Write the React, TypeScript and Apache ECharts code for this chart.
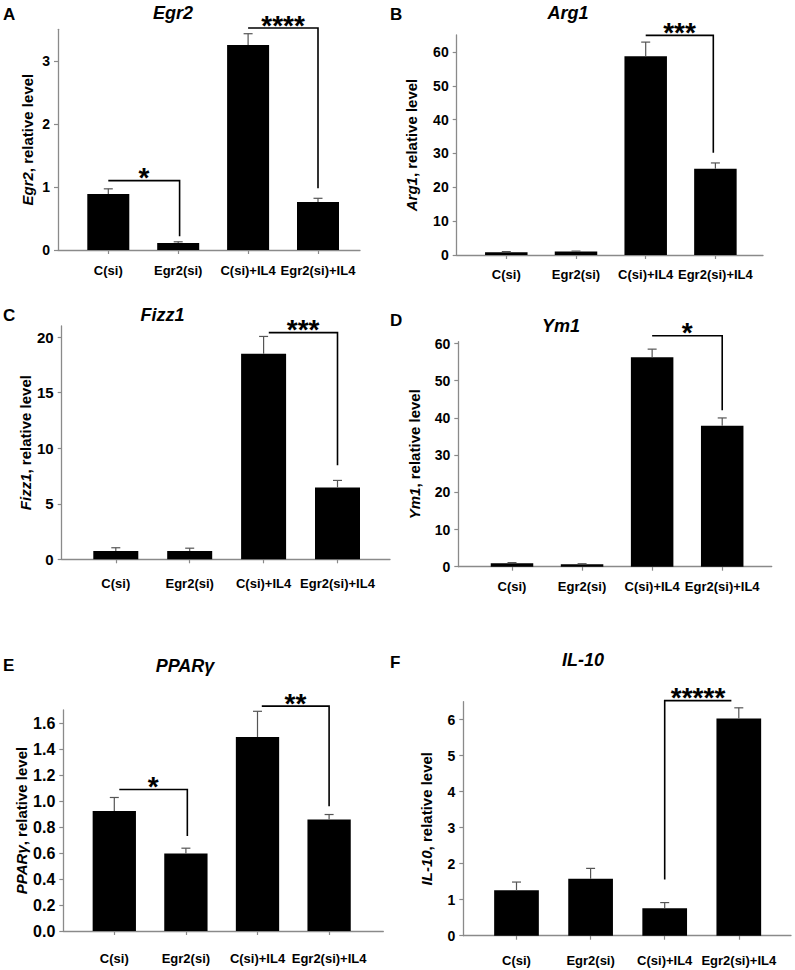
import React, { useEffect, useRef } from 'react';
import * as echarts from 'echarts';

type Bracket = [number, number, number, number, number, string];

const categories = ['C(si)', 'Egr2(si)', 'C(si)+IL4', 'Egr2(si)+IL4'];
const categoryPositions = [0, 1, 2, 3];

// A: Egr2
const egr2Values = [0.89, 0.11, 3.25, 0.76];
const egr2Errors = [0.08, 0.02, 0.18, 0.06];
const egr2Ticks = [0, 1, 2, 3];
const egr2AxisMax = 3.5;
const egr2Brackets: Bracket[] = [
  [0, 1.02, 1.1, 1.02, 0.22, '*'],
  [2, 3, 3.52, 3, 0.98, '****'],
];

// B: Arg1
const arg1Values = [0.8, 1.0, 58.7, 25.5];
const arg1Errors = [0.2, 0.15, 4.2, 1.7];
const arg1Ticks = [0, 10, 20, 30, 40, 50, 60];
const arg1AxisMax = 65;
const arg1Brackets: Bracket[] = [[2, 2.97, 64.9, 2.97, 30.2, '***']];

// C: Fizz1
const fizz1Values = [0.75, 0.75, 18.5, 6.47];
const fizz1Errors = [0.29, 0.25, 1.56, 0.63];
const fizz1Ticks = [0, 5, 10, 15, 20];
const fizz1AxisMax = 21;
const fizz1Brackets: Bracket[] = [[2.07, 3, 20.4, 3, 8.47, '***']];

// D: Ym1
const ym1Values = [0.9, 0.65, 56.3, 37.9];
const ym1Errors = [0.2, 0.15, 2.2, 2.1];
const ym1Ticks = [0, 10, 20, 30, 40, 50, 60];
const ym1AxisMax = 60.5;
const ym1Brackets: Bracket[] = [[2, 3, 62.1, 3, 42.1, '*']];

// E: PPARγ
const pparValues = [0.924, 0.597, 1.492, 0.858];
const pparErrors = [0.103, 0.04, 0.198, 0.038];
const pparTicks = [0, 0.2, 0.4, 0.6, 0.8, 1.0, 1.2, 1.4, 1.6];
const pparAxisMax = 1.7;
const pparBrackets: Bracket[] = [
  [0.07, 1.02, 1.088, 1.02, 0.73, '*'],
  [2.06, 3, 1.73, 3, 0.96, '**'],
];

// F: IL-10
const il10Values = [1.26, 1.58, 0.765, 6.03];
const il10Errors = [0.23, 0.29, 0.155, 0.3];
const il10Ticks = [0, 1, 2, 3, 4, 5, 6];
const il10AxisMax = 6.5;
const il10Brackets: Bracket[] = [[2, 2.9, 6.53, 2, 1.56, '*****']];

const FONT = '"Liberation Sans", Arial, Helvetica, sans-serif';
const AXIS_COLOR = '#8a8a8a';

const panels = [
  { letter: 'A', gene: 'Egr2', values: egr2Values, errors: egr2Errors, ticks: egr2Ticks, max: egr2AxisMax, brackets: egr2Brackets, decimals: 0,
    L: { axisX: 58, top: 29.3, bottom: 250, right: 360, c0: 108.3, step: 69.9, barW: 42, yFont: 14, nameGap: 23, labelMargin: 14, titleX: 173, titleY: 13, letterX: 3, letterY: 14.5 } },
  { letter: 'B', gene: 'Arg1', values: arg1Values, errors: arg1Errors, ticks: arg1Ticks, max: arg1AxisMax, brackets: arg1Brackets, decimals: 0,
    L: { axisX: 456.7, top: 35, bottom: 255, right: 763, c0: 506.3, step: 69.7, barW: 42.5, yFont: 14, nameGap: 38, labelMargin: 13, titleX: 568, titleY: 13, letterX: 390, letterY: 14 } },
  { letter: 'C', gene: 'Fizz1', values: fizz1Values, errors: fizz1Errors, ticks: fizz1Ticks, max: fizz1AxisMax, brackets: fizz1Brackets, decimals: 0,
    L: { axisX: 61.7, top: 326, bottom: 559.3, right: 390, c0: 115.8, step: 73.9, barW: 45, yFont: 15, nameGap: 19, labelMargin: 18, titleX: 162.5, titleY: 315, letterX: 3, letterY: 315 } },
  { letter: 'D', gene: 'Ym1', values: ym1Values, errors: ym1Errors, ticks: ym1Ticks, max: ym1AxisMax, brackets: ym1Brackets, decimals: 0,
    L: { axisX: 458.3, top: 341.7, bottom: 566.7, right: 771.7, c0: 512, step: 70.07, barW: 42.5, yFont: 14, nameGap: 36, labelMargin: 13, titleX: 561, titleY: 326, letterX: 390, letterY: 320 } },
  { letter: 'E', gene: 'PPARγ', values: pparValues, errors: pparErrors, ticks: pparTicks, max: pparAxisMax, brackets: pparBrackets, decimals: 1,
    L: { axisX: 63.3, top: 710, bottom: 931, right: 383.3, c0: 114.3, step: 71.6, barW: 43.3, yFont: 16, nameGap: 34, labelMargin: 21, titleX: 185, titleY: 666, letterX: 3, letterY: 665 } },
  { letter: 'F', gene: 'IL-10', values: il10Values, errors: il10Errors, ticks: il10Ticks, max: il10AxisMax, brackets: il10Brackets, decimals: 0,
    L: { axisX: 463.3, top: 701.7, bottom: 935.7, right: 791, c0: 516.5, step: 74.1, barW: 44.7, yFont: 14, nameGap: 29, labelMargin: 18, titleX: 583, titleY: 660, letterX: 390, letterY: 662 } },
];

function buildOption() {
  const grid: any[] = [];
  const xAxis: any[] = [];
  const yAxis: any[] = [];
  const series: any[] = [];
  const graphic: any[] = [];

  panels.forEach((p, i) => {
    const L = p.L;
    grid.push({ left: L.axisX, top: L.top, width: L.right - L.axisX, height: L.bottom - L.top, containLabel: false, outerBoundsMode: 'none' });
    const xMin = -(L.c0 - L.axisX) / L.step;
    const xMax = 3 + (L.right - (L.c0 + 3 * L.step)) / L.step;
    xAxis.push({
      type: 'value', gridIndex: i, min: xMin, max: xMax,
      axisLine: { show: true, onZero: false, lineStyle: { color: AXIS_COLOR, width: 1.3 } },
      axisTick: { show: true, customValues: categoryPositions, length: 4, lineStyle: { color: AXIS_COLOR, width: 1.2 } },
      axisLabel: {
        show: true, customValues: categoryPositions, margin: L.labelMargin,
        formatter: (v: number) => categories[Math.round(v)] ?? '',
        color: '#000', fontWeight: 'bold', fontSize: 13, fontFamily: FONT,
      },
      splitLine: { show: false },
    });
    yAxis.push({
      type: 'value', gridIndex: i, min: 0, max: p.max,
      axisLine: { show: true, onZero: false, lineStyle: { color: AXIS_COLOR, width: 1.3 } },
      axisTick: { show: true, customValues: p.ticks, length: 4, lineStyle: { color: AXIS_COLOR, width: 1.2 } },
      axisLabel: {
        show: true, customValues: p.ticks, margin: 8,
        formatter: (v: number) => v.toFixed(p.decimals),
        color: '#000', fontWeight: 'bold', fontSize: L.yFont, fontFamily: FONT,
      },
      splitLine: { show: false },
      name: `{i|${p.gene}}{n|, relative level}`,
      nameLocation: 'middle', nameGap: L.nameGap,
      nameTextStyle: {
        color: '#000', fontWeight: 'bold', fontSize: 15, fontFamily: FONT,
        rich: {
          i: { fontStyle: 'italic', fontWeight: 'bold', fontSize: 15, fontFamily: FONT, color: '#000' },
          n: { fontWeight: 'bold', fontSize: 15, fontFamily: FONT, color: '#000' },
        },
      },
    });

    series.push({
      type: 'bar', xAxisIndex: i, yAxisIndex: i, barWidth: L.barW,
      data: p.values.map((v, k) => [categoryPositions[k], v]),
      itemStyle: { color: '#000' },
      z: 2,
    });

    series.push({
      type: 'custom', xAxisIndex: i, yAxisIndex: i, clip: false, z: 3,
      data: p.values.map((v, k) => [categoryPositions[k], v, v + p.errors[k]]),
      encode: { x: 0, y: [1, 2] },
      renderItem: (params: any, api: any) => {
        const x = api.value(0);
        const b = api.coord([x, api.value(1)]);
        const t = api.coord([x, api.value(2)]);
        const style = { stroke: '#555', lineWidth: 1.2 };
        return {
          type: 'group',
          children: [
            { type: 'line', shape: { x1: b[0], y1: b[1], x2: t[0], y2: t[1] }, style },
            { type: 'line', shape: { x1: t[0] - 4.5, y1: t[1], x2: t[0] + 4.5, y2: t[1] }, style },
          ],
        };
      },
    });

    const br = p.brackets;
    series.push({
      type: 'custom', xAxisIndex: i, yAxisIndex: i, clip: false, z: 4,
      data: br.map((b) => b.slice(0, 5)),
      encode: { x: 0, y: 2 },
      renderItem: (params: any, api: any) => {
        const row = br[params.dataIndex];
        const [xs, xe, yl, xd, yd, label] = row;
        const a = api.coord([xs, yl]);
        const e = api.coord([xe, yl]);
        const d = api.coord([xd, yd]);
        const corner = api.coord([xd, yl]);
        const pts = xd === xe ? [a, e, d] : [e, corner, d];
        return {
          type: 'group',
          children: [
            { type: 'polyline', shape: { points: pts }, style: { stroke: '#000', lineWidth: 1.6, fill: null, lineJoin: 'miter' } },
            {
              type: 'text', x: (a[0] + e[0]) / 2, y: a[1] - 3,
              style: {
                text: label, fill: '#000', font: `bold 28px ${FONT}`,
                align: 'center', verticalAlign: 'middle', textAlign: 'center', textVerticalAlign: 'middle',
              },
            },
          ],
        };
      },
    });

    graphic.push({
      type: 'text', x: L.titleX, y: L.titleY,
      style: { text: p.gene, fill: '#000', font: `italic bold 18px ${FONT}`, align: 'center', verticalAlign: 'middle', textAlign: 'center', textVerticalAlign: 'middle' },
    });
    graphic.push({
      type: 'text', x: L.letterX, y: L.letterY,
      style: { text: p.letter, fill: '#000', font: `bold 17px ${FONT}`, align: 'left', verticalAlign: 'middle', textAlign: 'left', textVerticalAlign: 'middle' },
    });
  });

  return { animation: false, backgroundColor: '#fff', grid, xAxis, yAxis, series, graphic };
}

export default function App() {
  const ref = useRef<HTMLDivElement>(null);
  useEffect(() => {
    document.body.style.margin = '0';
    if (!ref.current) return;
    const chart = echarts.init(ref.current, null, { renderer: 'svg' });
    chart.setOption(buildOption() as any);
    return () => chart.dispose();
  }, []);
  return <div ref={ref} style={{ width: 795, height: 970 }} />;
}
